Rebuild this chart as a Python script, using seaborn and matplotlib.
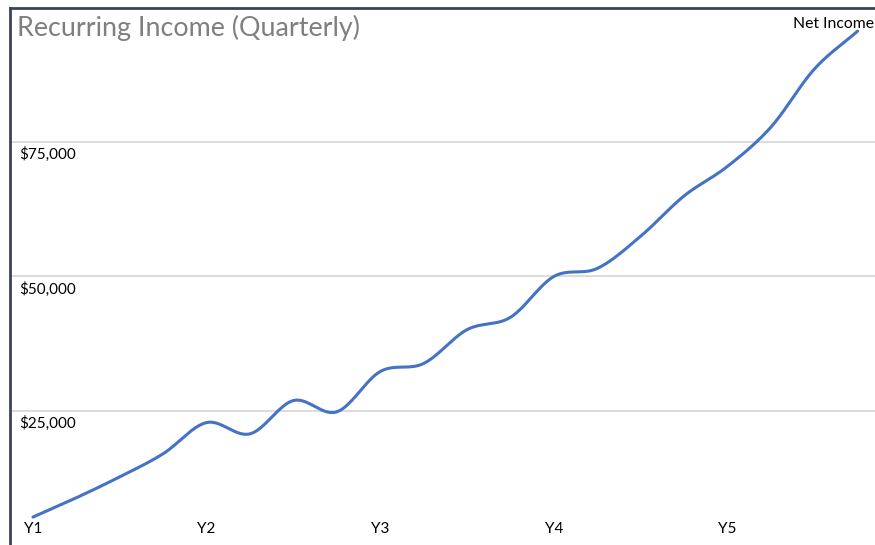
import numpy as np
import pandas as pd
import seaborn as sns
import matplotlib.pyplot as plt

# quarterly net income
quarters = list(range(20))
net_income = [5200, 8800, 12700, 17000, 22800, 20700, 26900, 24800, 32300, 33800,
              40100, 42400, 50000, 51500, 57500, 65000, 70500, 77800, 88600, 95700]
year_labels = ["Y1", "Y2", "Y3", "Y4", "Y5"]
year_pos = [0, 4, 8, 12, 16]
grid_vals = [25000, 50000, 75000]
grid_labels = ["$25,000", "$50,000", "$75,000"]


def smooth(x, y, n=20):
    # excel-like smoothed line (catmull-rom through each point)
    x = np.asarray(x, float)
    y = np.asarray(y, float)
    px = np.concatenate([[2 * x[0] - x[1]], x, [2 * x[-1] - x[-2]]])
    py = np.concatenate([[2 * y[0] - y[1]], y, [2 * y[-1] - y[-2]]])
    t = np.linspace(0, 1, n, endpoint=False)
    xs, ys = [], []
    for i in range(1, len(px) - 2):
        for p, out in ((px, xs), (py, ys)):
            p0, p1, p2, p3 = p[i - 1], p[i], p[i + 1], p[i + 2]
            out.extend(0.5 * (2 * p1 + (-p0 + p2) * t
                              + (2 * p0 - 5 * p1 + 4 * p2 - p3) * t ** 2
                              + (-p0 + 3 * p1 - 3 * p2 + p3) * t ** 3))
    xs.append(x[-1])
    ys.append(y[-1])
    return pd.DataFrame({"quarter": xs, "income": ys})


sns.set_style("white")
plt.rcParams["font.family"] = ["Lato", "DejaVu Sans"]

fig = plt.figure(figsize=(8.75, 5.45), dpi=100)
ax = fig.add_axes([10 / 875, 0, 865 / 875, 537 / 545])

sns.lineplot(data=smooth(quarters, net_income), x="quarter", y="income",
             color="#4472C4", linewidth=2.2, ax=ax, sort=False)

ax.set_xlim(-0.53, 19.4)
ax.set_ylim(0, 100000)
ax.set_xticks([])
ax.set_yticks([])
ax.set_xlabel("")
ax.set_ylabel("")

for v, lab in zip(grid_vals, grid_labels):
    ax.axhline(v, color="#d9d9d9", linewidth=1.3, zorder=0)
    ax.annotate(lab, xy=(0, v), xycoords=("axes fraction", "data"),
                xytext=(9, -5), textcoords="offset pixels",
                ha="left", va="top", fontsize=11, color="#000000")

for p, lab in zip(year_pos, year_labels):
    ax.annotate(lab, xy=(p, 0), xycoords="data", xytext=(0, 16),
                textcoords="offset pixels", ha="center", va="center",
                fontsize=11, color="#000000")

ax.annotate("Net Income", xy=(quarters[-1], net_income[-1]), xycoords="data",
            xytext=(-24, 0), textcoords="offset pixels", ha="center",
            va="bottom", fontsize=11.3, color="#000000")

for s in ["right", "bottom"]:
    ax.spines[s].set_visible(False)
for s in ["left", "top"]:
    ax.spines[s].set_color("#3b4358")
    ax.spines[s].set_linewidth(2)

fig.text(17 / 875, 1 - 28 / 545, "Recurring Income (Quarterly)", ha="left",
         va="center", fontsize=19.4, color="#7f7f7f")

fig.savefig("out.png", dpi=100)
